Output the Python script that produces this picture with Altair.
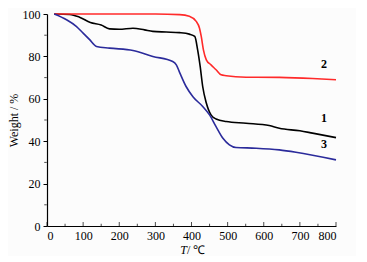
import altair as alt
import pandas as pd

# Curve 1 (black)
t1 = [20, 63, 90, 120, 150, 173, 200, 238, 270, 293, 330, 367, 394, 409, 417, 424, 431, 441, 454, 468, 496, 551, 615, 643, 700, 735, 800]
w1 = [100, 99.8, 98.5, 96, 94.8, 93, 92.8, 93.3, 92.5, 91.8, 91.5, 91.2, 90.5, 89.4, 83.1, 75.3, 65.8, 58, 52.4, 50.5, 49.3, 48.5, 47.4, 46.1, 44.9, 43.8, 41.7]
# Curve 2 (red)
t2 = [20, 100, 200, 300, 367, 394, 413, 422, 427, 433, 441, 454, 468, 482, 496, 551, 643, 735, 800]
w2 = [100, 100, 100, 100, 99.7, 98.9, 96.5, 93.4, 89.4, 83.1, 78.4, 76, 73.7, 71.3, 70.9, 70.2, 70.1, 69.6, 69]
# Curve 3 (blue)
t3 = [20, 54, 81, 100, 118, 137, 173, 238, 293, 348, 358, 367, 385, 404, 431, 450, 468, 487, 505, 523, 579, 643, 689, 800]
w3 = [100, 97.3, 94.2, 91, 87.9, 84.7, 83.9, 82.8, 80, 77.6, 76, 72.5, 65.8, 61, 56.4, 52.4, 46.9, 41.4, 38.3, 37, 36.7, 35.9, 34.8, 31.2]

labels = ["1", "2", "3"]
label_t = [767, 767, 767]
label_w = [47.7, 72.9, 35.4]
colors = ["#000000", "#ff2a2a", "#2b2b9b"]

x_major = list(range(0, 801, 100))
x_minor = list(range(50, 800, 100))
y_major = list(range(0, 101, 20))
y_minor = list(range(10, 100, 20))

rows = []
for name, ts, ws in [("1", t1, w1), ("2", t2, w2), ("3", t3, w3)]:
    for i, (t, w) in enumerate(zip(ts, ws)):
        rows.append({"series": name, "T": t, "W": w, "order": i})
df = pd.DataFrame(rows)
lab = pd.DataFrame({"series": labels, "T": label_t, "W": label_w})

font = "'Liberation Serif', 'Times New Roman', serif"
xs = alt.Scale(domain=[0, 800], nice=False)
ys = alt.Scale(domain=[0, 100], nice=False)
cs = alt.Scale(domain=labels, range=colors)

xaxis = alt.Axis(
    title=None, values=x_major, ticks=False, labelOverlap=False,
    labelFont=font, labelFontSize=12, labelColor="#000",
    domainColor="#000", labelPadding=4, grid=False, domainWidth=1.2)
yaxis = alt.Axis(
    title="Weight / %", values=y_major, labelOverlap=False,
    labelFont=font, labelFontSize=12, labelColor="#000", tickColor="#000",
    domainColor="#000", tickSize=4, labelPadding=3, grid=False,
    titleFont=font, titleFontSize=12, titleFontWeight="normal", titleColor="#000",
    titlePadding=2, domainWidth=1.2, tickWidth=1)

lines = alt.Chart(df).mark_line(strokeWidth=1.6, interpolate="monotone").encode(
    x=alt.X("T:Q", scale=xs, axis=xaxis),
    y=alt.Y("W:Q", scale=ys, axis=yaxis),
    color=alt.Color("series:N", scale=cs, legend=None),
    detail="series:N",
    order="order:Q",
)

xmaj = alt.Chart(pd.DataFrame({"T": x_major})).mark_tick(
    color="#000", size=4, thickness=1, orient="vertical"
).encode(x=alt.X("T:Q", scale=xs, axis=xaxis), y=alt.value(210))
xmin = alt.Chart(pd.DataFrame({"T": x_minor})).mark_tick(
    color="#000", size=2.5, thickness=1, orient="vertical"
).encode(x=alt.X("T:Q", scale=xs, axis=xaxis), y=alt.value(211))
ymin = alt.Chart(pd.DataFrame({"W": y_minor})).mark_tick(
    color="#000", size=2.5, thickness=1, orient="horizontal"
).encode(y=alt.Y("W:Q", scale=ys, axis=yaxis), x=alt.value(-1.5))

text = alt.Chart(lab).mark_text(font=font, fontSize=12, fontWeight="bold", align="center", baseline="bottom").encode(
    x=alt.X("T:Q", scale=xs, axis=xaxis), y=alt.Y("W:Q", scale=ys, axis=yaxis), text="series:N")

t_it = alt.Chart(pd.DataFrame({"a": [1]})).mark_text(
    text="T", font=font, fontSize=12, fontStyle="italic", align="right", baseline="middle"
).encode(x=alt.value(140), y=alt.value(236))
t_rest = alt.Chart(pd.DataFrame({"a": [1]})).mark_text(
    text=" / ℃", font=font, fontSize=12, align="left", baseline="middle"
).encode(x=alt.value(140), y=alt.value(236))

chart = alt.layer(lines, xmaj, xmin, ymin, text, t_it, t_rest).properties(
    width=289, height=212,
    autosize=alt.AutoSizeParams(type="none"),
    padding={"left": 39, "top": 6, "right": 20, "bottom": 30},
    background="#fcfcfc",
).configure(font=font).configure_view(stroke=None)

chart.save("out.html", embed_options={"renderer": "svg", "actions": False})
